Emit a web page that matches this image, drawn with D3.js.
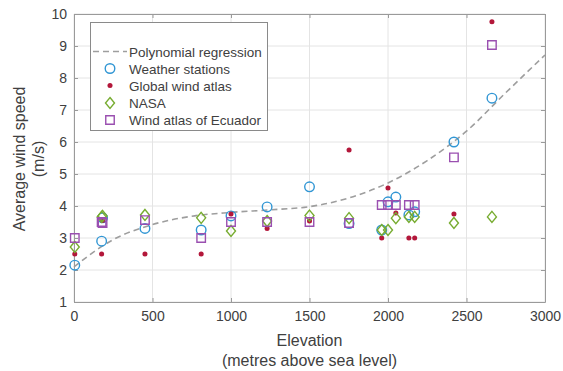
<!DOCTYPE html>
<html>
<head>
<meta charset="utf-8">
<script src="https://cdn.jsdelivr.net/npm/d3@7"></script>
<style>
  body { margin: 0; background: #fff; }
  svg text { font-family: "Liberation Sans", Arial, sans-serif; fill: #404040; }
</style>
</head>
<body>
<svg width="563" height="371"></svg>
<script>
// Site elevations (m) and the four wind speed sources
var elevation   = [5, 176, 182, 452, 810, 1000, 1230, 1500, 1752, 1960, 2000, 2050, 2133, 2170, 2420, 2662];
var stations    = [2.15, 2.9, 3.63, 3.3, 3.25, 3.69, 3.97, 4.6, 3.45, 3.25, 4.13, 4.28, 3.72, 3.82, 6.0, 7.37];
var globalAtlas = [2.5, 2.5, 3.55, 2.5, 2.5, 3.75, 3.3, 3.53, 5.75, 3.0, 4.56, 3.78, 3.0, 3.0, 3.75, 9.76];
var nasa        = [2.72, 3.66, 3.69, 3.72, 3.63, 3.22, 3.53, 3.7, 3.62, 3.25, 3.25, 3.62, 3.66, 3.66, 3.47, 3.66];
var ecuador     = [3.0, 3.5, 3.47, 3.56, 3.0, 3.5, 3.5, 3.5, 3.47, 4.03, 4.03, 4.03, 4.03, 4.03, 5.52, 9.03];

// regression curve
var fitX = [0, 250, 500, 750, 1000, 1250, 1500, 1750, 2000, 2250, 2500, 2750, 3000];
var fitY = [2.1, 2.95, 3.42, 3.68, 3.8, 3.88, 3.98, 4.25, 4.72, 5.42, 6.34, 7.54, 8.72];

var xTicks = [0, 500, 1000, 1500, 2000, 2500, 3000];
var yTicks = [1, 2, 3, 4, 5, 6, 7, 8, 9, 10];

var legendNames = ["Polynomial regression", "Weather stations", "Global wind atlas", "NASA", "Wind atlas of Ecuador"];

var col = { blue: "#3196d4", red: "#b3173a", green: "#77ac30", purple: "#9a4fb0" };

var pLeft = 74, pRight = 545, pTop = 14, pBottom = 302;

var svg = d3.select("svg");

var x = d3.scaleLinear().domain([0, 3000]).range([pLeft, pRight]);
var y = d3.scaleLinear().domain([1, 10]).range([pBottom, pTop]);

// grid
var grid = svg.append("g");
grid.selectAll(".gx").data(xTicks).enter().append("line")
    .attr("x1", d => x(d)).attr("x2", d => x(d))
    .attr("y1", pTop).attr("y2", pBottom)
    .attr("stroke", "#e4e4e4");
grid.selectAll(".gy").data(yTicks).enter().append("line")
    .attr("y1", d => y(d)).attr("y2", d => y(d))
    .attr("x1", pLeft).attr("x2", pRight)
    .attr("stroke", "#e4e4e4");

// axes (ticks point inward like matlab)
svg.append("g").attr("transform", "translate(0," + pBottom + ")")
    .call(d3.axisBottom(x).tickValues(xTicks).tickFormat(d3.format("d")).tickSize(-4).tickPadding(9).tickSizeOuter(0));
svg.append("g").attr("transform", "translate(" + pLeft + ",0)")
    .call(d3.axisLeft(y).tickValues(yTicks).tickSize(-4).tickPadding(7).tickSizeOuter(0));
svg.append("g").attr("transform", "translate(0," + pTop + ")")
    .call(d3.axisTop(x).tickValues(xTicks).tickSize(-4).tickFormat("").tickSizeOuter(0));
svg.append("g").attr("transform", "translate(" + pRight + ",0)")
    .call(d3.axisRight(y).tickValues(yTicks).tickSize(-4).tickFormat("").tickSizeOuter(0));

svg.selectAll(".domain").attr("stroke", "#9a9a9a");
svg.selectAll(".tick line").attr("stroke", "#9a9a9a");
svg.selectAll(".tick text").style("font-size", "14px").attr("fill", "#404040");

// axis titles
svg.append("text").attr("x", (pLeft + pRight) / 2).attr("y", 346)
    .attr("text-anchor", "middle").style("font-size", "16px").text("Elevation");
svg.append("text").attr("x", (pLeft + pRight) / 2).attr("y", 366)
    .attr("text-anchor", "middle").style("font-size", "16px").text("(metres above sea level)");
svg.append("text").attr("transform", "translate(24.5,159) rotate(-90)")
    .attr("text-anchor", "middle").style("font-size", "16px").text("Average wind speed");
svg.append("text").attr("transform", "translate(43.5,159) rotate(-90)")
    .attr("text-anchor", "middle").style("font-size", "16px").text("(m/s)");

// regression line
var fit = fitX.map((d, i) => [d, fitY[i]]);
svg.append("path").datum(fit)
    .attr("d", d3.line().x(d => x(d[0])).y(d => y(d[1])).curve(d3.curveMonotoneX))
    .attr("fill", "none").attr("stroke", "#9e9e9e")
    .attr("stroke-width", 1.6).attr("stroke-dasharray", "6,4");

var sym = {
    circle: d3.symbol().type(d3.symbolCircle).size(72),
    square: d3.symbol().type(d3.symbolSquare).size(72),
    dot: d3.symbol().type(d3.symbolCircle).size(20),
    diamond: function () { return "M0,-5.5L4.5,0L0,5.5L-4.5,0Z"; }
};

function drawSeries(vals, shape, color, filled) {
    svg.append("g").selectAll("path")
        .data(vals.map((v, i) => [elevation[i], v]))
        .enter().append("path")
        .attr("transform", d => "translate(" + x(d[0]) + "," + y(d[1]) + ")")
        .attr("d", sym[shape])
        .attr("fill", filled ? color : "none")
        .attr("stroke", filled ? "none" : color)
        .attr("stroke-width", 1.4);
}

drawSeries(stations, "circle", col.blue, false);
drawSeries(globalAtlas, "dot", col.red, true);
drawSeries(nasa, "diamond", col.green, false);
drawSeries(ecuador, "square", col.purple, false);

// legend
var lg = svg.append("g");
lg.append("rect").attr("x", 90.5).attr("y", 22.5).attr("width", 177).attr("height", 108)
    .attr("fill", "#fff").attr("stroke", "#8a8a8a");
var rowY = [51.5, 68.5, 85.5, 103, 120];
lg.append("line").attr("x1", 93).attr("x2", 127).attr("y1", rowY[0]).attr("y2", rowY[0])
    .attr("stroke", "#9e9e9e").attr("stroke-width", 1.6).attr("stroke-dasharray", "6,4");
var legSym = [null, ["circle", col.blue, false], ["dot", col.red, true], ["diamond", col.green, false], ["square", col.purple, false]];
legSym.forEach(function (s, i) {
    if (!s) return;
    lg.append("path").attr("transform", "translate(110," + rowY[i] + ")")
        .attr("d", sym[s[0]])
        .attr("fill", s[2] ? s[1] : "none")
        .attr("stroke", s[2] ? "none" : s[1]).attr("stroke-width", 1.4);
});
lg.selectAll("text.lt").data(legendNames).enter().append("text")
    .attr("x", 129).attr("y", (d, i) => rowY[i] + 5)
    .style("font-size", "13.5px").text(d => d);
</script>
</body>
</html>
